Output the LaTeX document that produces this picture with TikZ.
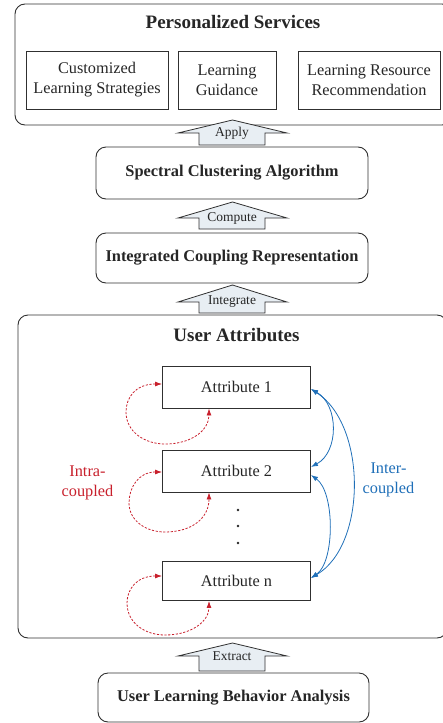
\documentclass[tikz,border=0pt]{standalone}
\usepackage{fontspec}
\setmainfont{Liberation Serif}
\usetikzlibrary{arrows.meta}
\definecolor{txt}{HTML}{262626}
\definecolor{ln}{HTML}{303030}
\definecolor{afill}{HTML}{E8EEF3}
\definecolor{ired}{HTML}{C8202C}
\definecolor{iblue}{HTML}{1F6FB8}
\newcommand\bigup[4]{%
  \filldraw[arrowshape] (232.5,#1) -- (287,#2) -- (265,#2) -- (265,#3) -- (199,#3) -- (199,#2) -- (178,#2) -- cycle;
  \node[arrowlbl] at (232,#2) {#4};}
\begin{document}
\begin{tikzpicture}[x=1pt,y=-1pt,
  bigbox/.style={draw=ln, line width=0.9pt, rounded corners=10pt, inner sep=0pt},
  sqbox/.style={draw=ln, line width=0.9pt, inner sep=0pt, align=center, text=txt,
     font=\fontsize{16.3}{20}\selectfont},
  boldlbl/.style={text=txt, font=\fontsize{16.4}{20}\selectfont\bfseries},
  titlelbl/.style={text=txt, font=\fontsize{19}{22}\selectfont\bfseries},
  arrowshape/.style={draw=ln, fill=afill, line width=0.8pt, line join=miter},
  arrowlbl/.style={text=txt, inner sep=0pt, font=\fontsize{13.5}{15}\selectfont},
  intra/.style={draw=ired, dashed, dash pattern=on 2.2pt off 1.6pt, line width=0.8pt,
     {Latex[length=7pt,width=5pt]}-{Latex[length=7pt,width=5pt]}},
  inter/.style={draw=iblue, line width=0.8pt,
     {Latex[length=7pt,width=5pt]}-{Latex[length=7pt,width=5pt]}},
  colorlbl/.style={align=center, inner sep=0pt, font=\fontsize{16.3}{20}\selectfont}
]
\useasboundingbox (0,0) rectangle (443,723);

% Personalized services
\node[bigbox, minimum width=437pt, minimum height=121pt] (ps) at (233.5,64.5) {};
\node[titlelbl] (pst) at (233,22) {Personalized Services};
\node[sqbox, minimum width=142pt, minimum height=58pt] (s1) at (97,80) {Customized\\Learning Strategies};
\node[sqbox, minimum width=98pt, minimum height=58pt] (s2) at (227,80) {Learning\\Guidance};
\node[sqbox, minimum width=142pt, minimum height=58pt] (s3) at (369,80) {Learning Resource\\Recommendation};

\bigup{120}{133}{145}{Apply}

% Spectral clustering
\node[bigbox, minimum width=272pt, minimum height=52pt] (sc) at (232,173) {};
\node[boldlbl] at (sc.center) {Spectral Clustering Algorithm};

\bigup{202}{218}{229}{Compute}

% Integrated coupling
\node[bigbox, minimum width=272pt, minimum height=50pt] (ic) at (232,258) {};
\node[boldlbl] at (ic.center) {Integrated Coupling Representation};

\bigup{285}{302}{313}{Integrate}

% User attributes
\node[bigbox, minimum width=429pt, minimum height=323pt] (ua) at (232.5,476.5) {};
\node[titlelbl] (uat) at (236.5,335) {User Attributes};

\node[sqbox, minimum width=148pt, minimum height=42pt] (a1) at (236.5,387) {Attribute 1};
\node[sqbox, minimum width=148pt, minimum height=42pt] (a2) at (236.5,471) {Attribute 2};
\node[sqbox, minimum width=148pt, minimum height=39pt] (an) at (236.5,581) {Attribute n};

\fill[txt] (238,510) circle (1.3pt);
\fill[txt] (238,526) circle (1.3pt);
\fill[txt] (238,543) circle (1.3pt);

% intra-coupled loops
\draw[intra] ([yshift=3pt]a1.west) .. controls (135,384) and (126,398) .. (126,412)
   .. controls (126,432) and (145,444) .. (165,444)
   .. controls (192,444) and (209,430) .. ([xshift=-27.5pt]a1.south);
\draw[intra] ([yshift=-1pt]a2.west) .. controls (138,472) and (129,488) .. (129,503)
   .. controls (129,520) and (145,532) .. (165,532)
   .. controls (192,532) and (209,518) .. ([xshift=-27.5pt]a2.south);
\draw[intra] ([yshift=5pt]an.west) .. controls (136,576) and (127,590) .. (127,603)
   .. controls (127,623) and (145,635) .. (165,635)
   .. controls (192,635) and (209,621) .. ([xshift=-27.5pt]an.south);

% inter-coupled arcs
\draw[inter] ([yshift=-2pt]a1.east) .. controls (339,405) and (339,452) .. ([yshift=4pt]a2.east);
\draw[inter] ([yshift=-4pt]a2.east) .. controls (335,492) and (335,562) .. ([yshift=3pt]an.east);
\draw[inter] ([yshift=-2pt]a1.east) .. controls (367,425) and (367,545) .. ([yshift=3pt]an.east);

\node[colorlbl, text=ired] (intral) at (87.5,483) {Intra-\\coupled};
\node[colorlbl, text=iblue] (interl) at (388.5,480) {Inter-\\coupled};

\bigup{643}{656}{671}{Extract}

% User learning behavior analysis
\node[bigbox, minimum width=271pt, minimum height=49pt] (ul) at (233.5,697.5) {};
\node[boldlbl] at (ul.center) {User Learning Behavior Analysis};
\end{tikzpicture}
\end{document}
